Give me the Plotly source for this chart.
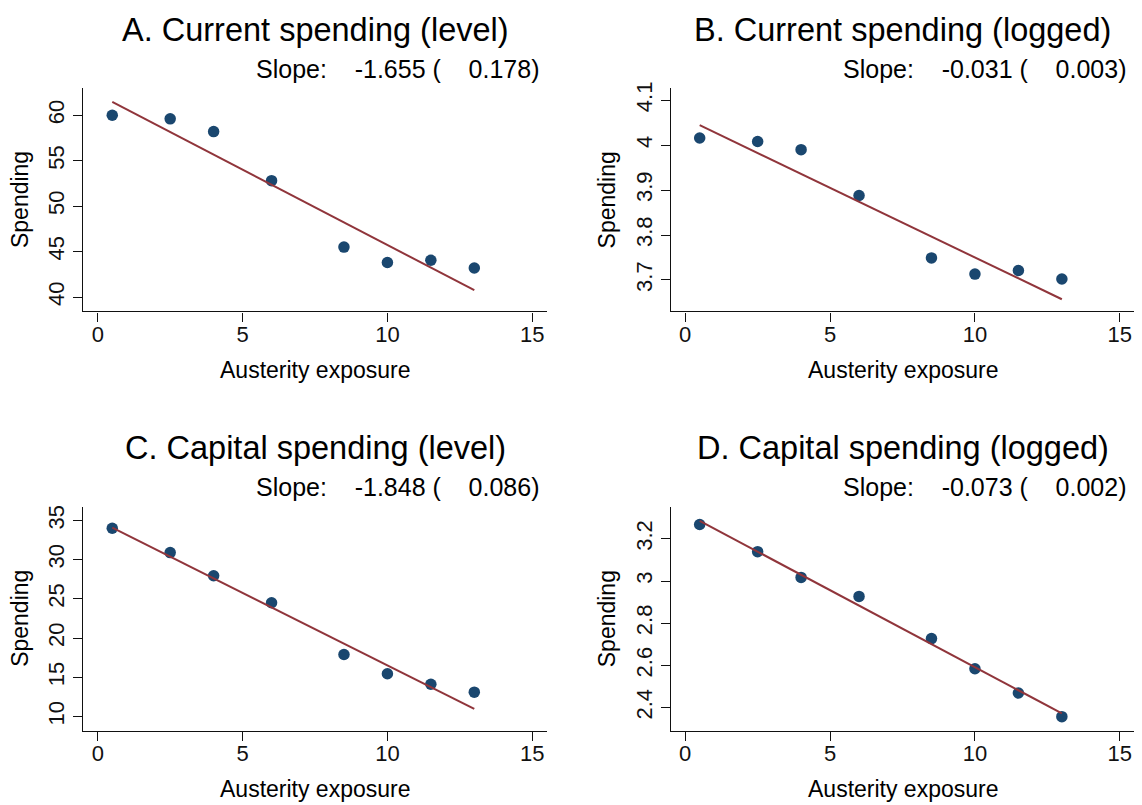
import plotly.graph_objects as go

# ---- data -------------------------------------------------------------
exposure = [0.5, 2.5, 4, 6, 8.5, 10, 11.5, 13]

current_level = [60.0, 59.6, 58.2, 52.8, 45.5, 43.8, 44.05, 43.2]
current_logged = [4.016, 4.008, 3.990, 3.888, 3.749, 3.713, 3.721, 3.702]
capital_level = [34.0, 30.9, 27.95, 24.5, 17.9, 15.45, 14.1, 13.1]
capital_logged = [3.268, 3.139, 3.017, 2.927, 2.727, 2.584, 2.469, 2.357]

panel_titles = [
    "A. Current spending (level)",
    "B. Current spending (logged)",
    "C. Capital spending (level)",
    "D. Capital spending (logged)",
]
slopes = [-1.655, -0.031, -1.848, -0.073]
slope_se = [0.178, 0.003, 0.086, 0.002]
intercepts = [62.28, 4.060, 35.00, 3.3215]

y_ticks = [
    [40, 45, 50, 55, 60],
    [3.7, 3.8, 3.9, 4.0, 4.1],
    [10, 15, 20, 25, 30, 35],
    [2.4, 2.6, 2.8, 3.0, 3.2],
]
y_ticktext = [
    ["40", "45", "50", "55", "60"],
    ["3.7", "3.8", "3.9", "4", "4.1"],
    ["10", "15", "20", "25", "30", "35"],
    ["2.4", "2.6", "2.8", "3", "3.2"],
]
y_ranges = [[38.43, 62.98], [3.630, 4.127], [8.2, 36.77], [2.291, 3.353]]
x_ticks = [0, 5, 10, 15]
x_range = [-0.5, 15.5]

x_title = "Austerity exposure"
y_title = "Spending"

# ---- layout geometry (pixels) ------------------------------------------
W, H = 1142, 805
col_px = [(83.3, 546.7), (670.7, 1134.3)]
row_px = [(82.7, 307.7), (504.3, 730.0)]

FONT = "Liberation Sans, Arial, Helvetica, sans-serif"
NAVY = "#1a476f"
MAROON = "#90353b"
INK = "#111111"


def px_x(px):
    return px / W


def px_y(py):
    return 1 - py / H


series = [current_level, current_logged, capital_level, capital_logged]

fig = go.Figure()
annotations = []
NB = "\u00a0"

for i in range(4):
    r, c = divmod(i, 2)
    left, right = col_px[c]
    top, bottom = row_px[r]
    suffix = "" if i == 0 else str(i + 1)
    xa, ya = "x" + suffix, "y" + suffix

    fig.add_trace(go.Scatter(
        x=exposure, y=series[i], mode="markers",
        marker=dict(color=NAVY, size=11.5, line=dict(width=0)),
        xaxis=xa, yaxis=ya, showlegend=False, hoverinfo="x+y",
    ))
    x0, x1 = min(exposure), max(exposure)
    fig.add_trace(go.Scatter(
        x=[x0, x1],
        y=[intercepts[i] + slopes[i] * x0, intercepts[i] + slopes[i] * x1],
        mode="lines", line=dict(color=MAROON, width=2),
        xaxis=xa, yaxis=ya, showlegend=False, hoverinfo="skip",
    ))

    axis_common = dict(
        showline=True, linecolor=INK, linewidth=1.3, mirror=False,
        ticks="outside", ticklen=9, tickwidth=1.3, tickcolor=INK,
        showgrid=False, zeroline=False,
        tickfont=dict(family=FONT, size=22, color=INK),
    )
    fig.layout["xaxis" + suffix] = dict(
        domain=[px_x(left), px_x(right)], anchor=ya, range=x_range,
        tickmode="array", tickvals=x_ticks, ticklabelstandoff=-6,
        **axis_common,
    )
    fig.layout["yaxis" + suffix] = dict(
        domain=[px_y(bottom), px_y(top)], anchor=xa, range=y_ranges[i],
        tickmode="array", tickvals=y_ticks[i], ticktext=y_ticktext[i],
        tickangle=-90, **axis_common,
    )

    centre = (left + right) / 2
    annotations.append(dict(
        text=panel_titles[i], xref="paper", yref="paper",
        x=px_x(centre), y=px_y(top - 59), xanchor="center", yanchor="middle",
        showarrow=False, font=dict(family=FONT, size=32.5, color="black"),
    ))
    slope_text = (f"Slope:{NB * 4}{slopes[i]:.3f} ({NB * 4}{slope_se[i]:.3f})")
    annotations.append(dict(
        text=slope_text, xref="paper", yref="paper",
        x=px_x(right - 5), y=px_y(top - 19.5), xanchor="right", yanchor="middle",
        showarrow=False, font=dict(family=FONT, size=25, color="black"),
    ))
    annotations.append(dict(
        text=x_title, xref="paper", yref="paper",
        x=px_x(centre), y=px_y(bottom + 59), xanchor="center", yanchor="middle",
        showarrow=False, font=dict(family=FONT, size=23, color="black"),
    ))
    annotations.append(dict(
        text=y_title, xref="paper", yref="paper", textangle=-90,
        x=px_x(left - 64), y=px_y((top + bottom) / 2), xanchor="center",
        yanchor="middle", showarrow=False,
        font=dict(family=FONT, size=23, color="black"),
    ))

fig.update_layout(
    width=W, height=H,
    margin=dict(l=0, r=0, t=0, b=0),
    paper_bgcolor="white", plot_bgcolor="white",
    annotations=annotations,
    font=dict(family=FONT, color="black"),
)

fig.write_html("out.html", include_plotlyjs=True, config={"displayModeBar": False})
